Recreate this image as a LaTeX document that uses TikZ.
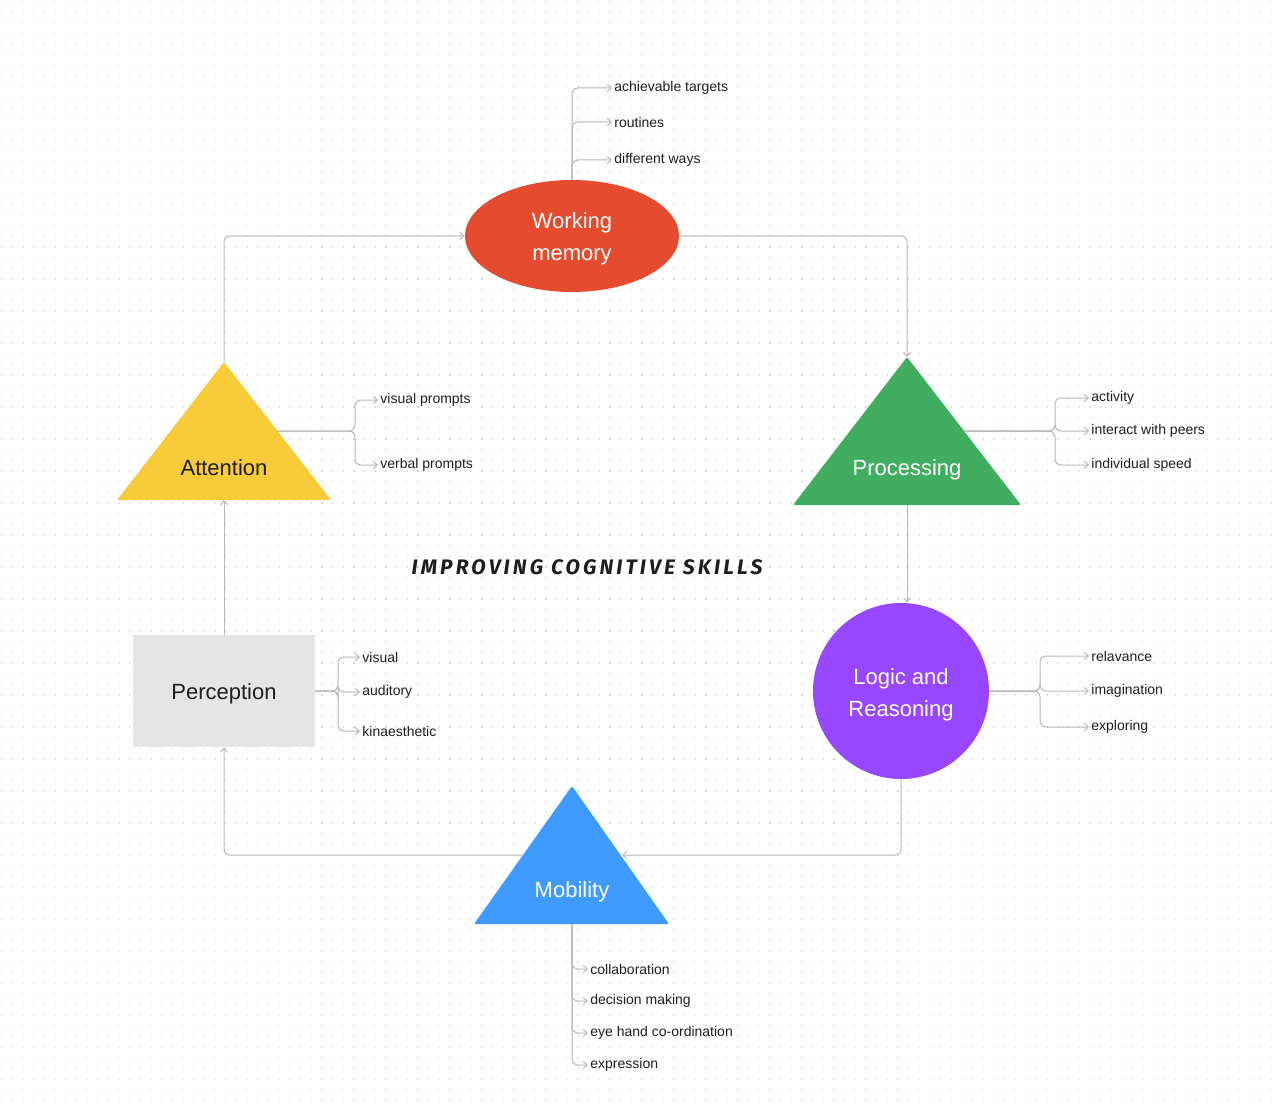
\documentclass[tikz,border=0pt]{standalone}
\usepackage{fontspec}
\setmainfont{Liberation Sans}
\newfontfamily\titlefont[LetterSpace=15]{Fira Sans}
\usetikzlibrary{arrows.meta, calc, shapes.geometric}

\definecolor{wmred}{HTML}{E54B2F}
\definecolor{procgreen}{HTML}{41AE5F}
\definecolor{logicpurple}{HTML}{9747FF}
\definecolor{mobblue}{HTML}{3F9BFF}
\definecolor{attyellow}{HTML}{F8CB3B}
\definecolor{percgrey}{HTML}{E5E5E5}
\definecolor{linkgrey}{HTML}{B8B8B8}
\definecolor{inkdark}{HTML}{1E1E1E}

\tikzset{
  hub/.style={text=white, align=center, inner sep=0pt, font=\fontsize{11}{16}\selectfont},
  leaf/.style={anchor=west, inner sep=1pt, text=inkdark, font=\fontsize{7}{8}\selectfont},
  link/.style={draw=linkgrey, line width=0.5pt, rounded corners=3pt, -{Straight Barb[length=2pt,width=3.6pt]}},
  griddots/.style={draw=black!16, line width=0.6pt, dash pattern=on 0.6pt off 4.735pt},
}

\begin{document}
\begin{tikzpicture}[x=0.5pt, y=-0.5pt]
      \useasboundingbox (0,0) rectangle (1273,1107);
      \fill[white] (0,0) rectangle (1273,1107);
      % dotted canvas
      \foreach \r in {0,...,103}
        \draw[griddots] (1.2, 1.5+10.67*\r) -- (1273, 1.5+10.67*\r);

      % shapes
      \node[hub, ellipse, fill=wmred, minimum width=107pt, minimum height=56pt] (wm) at (572,236) {};
      \node[hub] (wm-text) at (572,239) {Working\\memory};
      \node[hub, circle, fill=logicpurple, minimum size=88pt] (logic) at (901,691) {};
      \node[hub] (logic-text) at (901,695) {Logic and\\Reasoning};
      \node[hub, fill=percgrey, minimum width=91pt, minimum height=56pt] (perc) at (224,691) {};
      \node[hub, text=inkdark] (perc-text) at (224,694) {Perception};

      \fill[procgreen, rounded corners=1pt] (907,357) -- (1021,505) -- (793,505) -- cycle;
      \fill[mobblue, rounded corners=1pt] (572,786) -- (669,924) -- (474,924) -- cycle;
      \fill[attyellow, rounded corners=1pt] (224,362) -- (331,500) -- (117,500) -- cycle;

      \node[hub] (proc) at (907,470) {Processing};
      \node[hub] (mob) at (572,892) {Mobility};
      \node[hub, text=inkdark] (att) at (224,468) {Attention};

      \coordinate (proc-top) at (907,357);
      \coordinate (proc-bot) at (907,505);
      \coordinate (proc-right) at (964,431);
      \coordinate (mob-left) at (523,855);
      \coordinate (mob-right) at (622,855);
      \coordinate (mob-bot) at (572,924);
      \coordinate (att-top) at (224,362);
      \coordinate (att-bot) at (224,500);
      \coordinate (att-right) at (277,431);

      \node[font=\titlefont\bfseries\itshape\fontsize{10.5}{12}\selectfont, text=inkdark] (title) at (587,567) {IMPROVING COGNITIVE SKILLS};

      % cycle
      \draw[link] (att-top) |- (wm.west);
      \draw[link] (wm.east) -| (proc-top);
      \draw[link] (proc-bot) -- (proc-bot |- logic.north);
      \draw[link] (logic.south) |- (mob-right);
      \draw[link] (mob-left) -| (perc.south);
      \draw[link] (perc.north) -- (att-bot);

      % working memory
      \node[leaf] (wm1) at (612,88) {achievable targets};
      \node[leaf] (wm2) at (612,122) {routines};
      \node[leaf] (wm3) at (612,160) {different ways};
      \foreach \n in {wm1, wm2, wm3}
        \draw[link] (wm.north) |- (\n.west);

      % attention
      \node[leaf] (att1) at (378,400) {visual prompts};
      \node[leaf] (att2) at (378,465) {verbal prompts};
      \coordinate (att-fork) at (355,431);
      \foreach \n in {att1, att2}
        \draw[link] (att-right) -- (att-fork) |- (\n.west);

      % processing
      \node[leaf] (proc1) at (1089,398) {activity};
      \node[leaf] (proc2) at (1089,431) {interact with peers};
      \node[leaf] (proc3) at (1089,465) {individual speed};
      \coordinate (proc-fork) at (1055,431);
      \foreach \n in {proc1, proc2, proc3}
        \draw[link] (proc-right) -- (proc-fork) |- (\n.west);

      % logic and reasoning
      \node[leaf] (logic1) at (1089,656) {relavance};
      \node[leaf] (logic2) at (1089,691) {imagination};
      \node[leaf] (logic3) at (1089,727) {exploring};
      \coordinate (logic-fork) at (1040,691);
      \foreach \n in {logic1, logic2, logic3}
        \draw[link] (logic.east) -- (logic-fork) |- (\n.west);

      % perception
      \node[leaf] (perc1) at (360,657) {visual};
      \node[leaf] (perc2) at (360,692) {auditory};
      \node[leaf] (perc3) at (360,731) {kinaesthetic};
      \coordinate (perc-fork) at (338,691);
      \foreach \n in {perc1, perc2, perc3}
        \draw[link] (perc.east) -- (perc-fork) |- (\n.west);

      % mobility
      \node[leaf] (mob1) at (588,969) {collaboration};
      \node[leaf] (mob2) at (588,1001) {decision making};
      \node[leaf] (mob3) at (588,1033) {eye hand co-ordination};
      \node[leaf] (mob4) at (588,1065) {expression};
      \foreach \n in {mob1, mob2, mob3, mob4}
        \draw[link] (mob-bot) |- (\n.west);
\end{tikzpicture}
\end{document}
